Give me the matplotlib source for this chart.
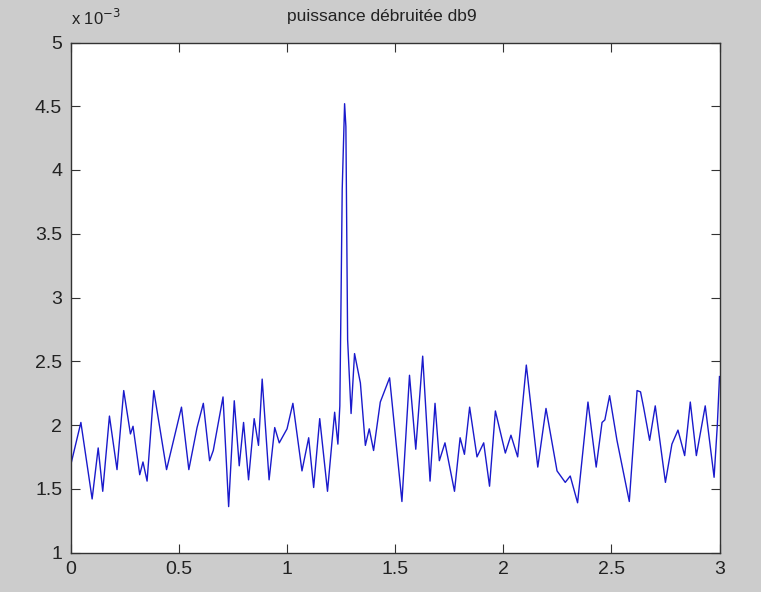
import numpy as np
import matplotlib
matplotlib.use('Agg')
import matplotlib.pyplot as plt
from matplotlib.ticker import FuncFormatter

plt.rcParams['font.family'] = ['Liberation Sans', 'DejaVu Sans']

# Frequency axis (vertices read at the extrema of the curve)
freq = [0.000, 0.003, 0.048, 0.100, 0.128, 0.149, 0.180, 0.215, 0.246, 0.277,
        0.289, 0.320, 0.335, 0.354, 0.385, 0.444, 0.513, 0.547, 0.585, 0.614,
        0.643, 0.660, 0.705, 0.731, 0.757, 0.780, 0.800, 0.823, 0.849, 0.869,
        0.886, 0.918, 0.944, 0.965, 1.001, 1.028, 1.070, 1.101, 1.124, 1.152,
        1.188, 1.221, 1.236, 1.245, 1.250, 1.256, 1.267, 1.273, 1.281, 1.297,
        1.313, 1.340, 1.363, 1.381, 1.401, 1.432, 1.475, 1.532, 1.567, 1.596,
        1.628, 1.662, 1.685, 1.705, 1.731, 1.775, 1.801, 1.821, 1.845, 1.879,
        1.910, 1.937, 1.964, 2.010, 2.036, 2.067, 2.107, 2.160, 2.198, 2.249,
        2.287, 2.310, 2.344, 2.392, 2.430, 2.457, 2.470, 2.492, 2.526, 2.583,
        2.619, 2.635, 2.649, 2.677, 2.703, 2.750, 2.780, 2.808, 2.839, 2.865,
        2.893, 2.934, 2.975, 2.990, 3.000]

# Power in units of 1e-3
power = [1.58, 1.70, 2.02, 1.42, 1.82, 1.48, 2.07, 1.65, 2.27, 1.93,
         1.99, 1.61, 1.71, 1.56, 2.27, 1.65, 2.14, 1.65, 1.98, 2.17,
         1.72, 1.80, 2.22, 1.36, 2.19, 1.68, 2.02, 1.57, 2.05, 1.84,
         2.36, 1.57, 1.98, 1.86, 1.97, 2.17, 1.64, 1.90, 1.51, 2.05,
         1.48, 2.10, 1.85, 2.15, 2.90, 3.85, 4.52, 4.34, 2.67, 2.09,
         2.56, 2.33, 1.84, 1.97, 1.80, 2.18, 2.37, 1.40, 2.39, 1.81,
         2.54, 1.56, 2.17, 1.72, 1.86, 1.48, 1.90, 1.77, 2.14, 1.75,
         1.86, 1.52, 2.11, 1.78, 1.92, 1.75, 2.47, 1.67, 2.13, 1.64,
         1.55, 1.60, 1.39, 2.18, 1.67, 2.02, 2.04, 2.23, 1.88, 1.40,
         2.27, 2.26, 2.14, 1.88, 2.15, 1.55, 1.85, 1.96, 1.76, 2.18,
         1.76, 2.15, 1.59, 2.00, 2.38]

x_ticks = [0, 0.5, 1, 1.5, 2, 2.5, 3]
y_ticks = [1, 1.5, 2, 2.5, 3, 3.5, 4, 4.5, 5]

fig = plt.figure(figsize=(7.61, 5.92), dpi=100, facecolor='#cccccc')
ax = fig.add_axes([70.5/761, 39.5/592, 649/761, 510/592])
ax.set_facecolor('white')

ax.plot(freq, np.array(power) * 1e-3, color='#1a1acc', lw=1.0)

ax.set_xlim(0, 3)
ax.set_ylim(1e-3, 5e-3)
ax.set_xticks(x_ticks)
ax.set_yticks([v * 1e-3 for v in y_ticks])
ax.xaxis.set_major_formatter(FuncFormatter(lambda v, p: '%g' % v))
ax.yaxis.set_major_formatter(FuncFormatter(lambda v, p: '%g' % round(v * 1e3, 3)))
ax.tick_params(direction='in', length=6.5, width=0.8, top=True, right=True,
               labelsize=14, color='#333333', labelcolor='#222222', pad=6)
for s in ax.spines.values():
    s.set_color('#333333')
    s.set_linewidth(1.0)

fig.text(382/761, 1 - 17/592, 'puissance débruitée db9', fontsize=12.5,
         color='#222222', ha='center', va='center')
fig.text(71/761, 1 - 25/592, 'x 10$^{-3}$', fontsize=12, color='#222222')

fig.savefig('out.png', dpi=100, facecolor=fig.get_facecolor())
